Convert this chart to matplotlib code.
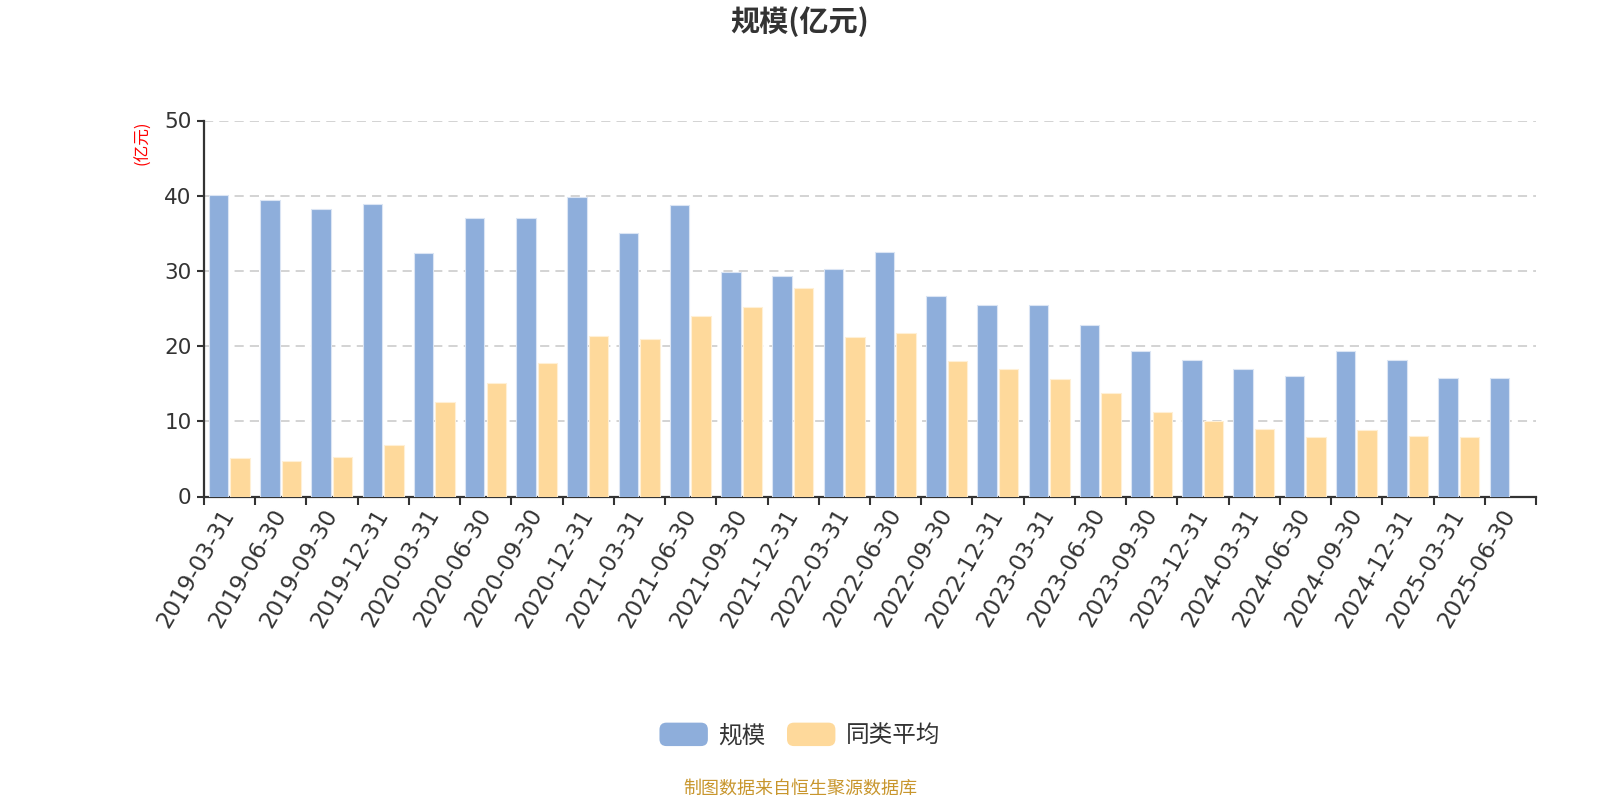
import numpy as np
import matplotlib
matplotlib.use("Agg")
import matplotlib.pyplot as plt
from matplotlib.patches import FancyBboxPatch, Patch
from matplotlib.legend_handler import HandlerPatch

plt.rcParams['font.family'] = ['Noto Sans CJK SC', 'DejaVu Sans']

categories = ["2019-03-31", "2019-06-30", "2019-09-30", "2019-12-31",
              "2020-03-31", "2020-06-30", "2020-09-30", "2020-12-31",
              "2021-03-31", "2021-06-30", "2021-09-30", "2021-12-31",
              "2022-03-31", "2022-06-30", "2022-09-30", "2022-12-31",
              "2023-03-31", "2023-06-30", "2023-09-30", "2023-12-31",
              "2024-03-31", "2024-06-30", "2024-09-30", "2024-12-31",
              "2025-03-31", "2025-06-30"]
scale = [40.1, 39.4, 38.2, 38.9, 32.4, 37.0, 37.1, 39.8, 35.1, 38.8,
         29.9, 29.3, 30.2, 32.5, 26.7, 25.5, 25.5, 22.8, 19.3, 18.1,
         16.9, 16.0, 19.4, 18.1, 15.7, 15.7]
peer_avg = [5.1, 4.7, 5.2, 6.9, 12.6, 15.1, 17.8, 21.4, 20.9, 24.0,
            25.2, 27.7, 21.2, 21.8, 18.0, 17.0, 15.6, 13.7, 11.2, 10.1,
            8.95, 7.9, 8.8, 8.0, 7.9, np.nan]
series_names = ["规模", "同类平均"]
yticks = [0, 10, 20, 30, 40, 50]

c_blue = "#8eaedb"
c_orange = "#fed99b"
txt = "#333333"
tick_font = ['DejaVu Sans']

fig = plt.figure(figsize=(16, 8), dpi=100)
ax = fig.add_axes([204/1600, (800-496.5)/800, (1536-204)/1600, (496.5-120.5)/800])

x = np.arange(len(categories))
w = 0.38
ax.bar(x - 0.215, scale, width=w, color=c_blue, edgecolor="#dbe5f4", linewidth=0.8, zorder=3)
ax.bar(x + 0.205, peer_avg, width=w, color=c_orange, edgecolor="#fff0d6", linewidth=0.8, zorder=3)

ax.set_xlim(-0.5, len(categories) - 0.5)
ax.set_ylim(0, 50)
ax.set_yticks(yticks)
ax.set_yticklabels([str(v) for v in yticks], fontsize=15.5, color=txt, family=tick_font)
ax.yaxis.grid(True, linestyle=(0, (6, 4)), color="#c8c8c8", linewidth=1.1, zorder=0)
ax.tick_params(axis='y', length=5, width=1.5, color=txt, pad=4)

ax.set_xticks(np.arange(-0.5, len(categories), 1.0))
ax.set_xticklabels([])
ax.set_xticks(x, minor=True)
ax.set_xticklabels(categories, minor=True, rotation=60, ha='right', va='center',
                   rotation_mode='anchor', fontsize=16.5, color=txt, family=tick_font)
ax.tick_params(axis='x', which='major', length=6, width=1.5, color=txt)
ax.tick_params(axis='x', which='minor', length=0, pad=10)

for s in ['top', 'right']:
    ax.spines[s].set_visible(False)
for s in ['left', 'bottom']:
    ax.spines[s].set_color(txt)
    ax.spines[s].set_linewidth(1.6)

fig.text(143/1600, 1 - 143/800, "(亿元)", rotation=90, color="red", fontsize=12,
         ha='center', va='center')
fig.text(0.5, 1 - 22/800, "规模(亿元)", fontsize=21, fontweight='bold', color=txt,
         ha='center', va='center')


class RoundHandler(HandlerPatch):
    def create_artists(self, legend, orig_handle, xdescent, ydescent, width, height, fontsize, trans):
        p = FancyBboxPatch((-xdescent, -ydescent), width, height,
                           boxstyle="round,pad=0,rounding_size=5",
                           facecolor=orig_handle.get_facecolor(), edgecolor='none',
                           transform=trans)
        return [p]


handles = [Patch(facecolor=c_blue), Patch(facecolor=c_orange)]
leg = fig.legend(handles, series_names, loc='center', bbox_to_anchor=(0.5, 1 - 735/800),
                 ncol=2, frameon=False, fontsize=17, handlelength=2.05, handleheight=1.15,
                 handletextpad=0.45, columnspacing=0.9,
                 handler_map={Patch: RoundHandler()})
for t in leg.get_texts():
    t.set_color(txt)

fig.text(0.5, 1 - 789/800, "制图数据来自恒生聚源数据库", fontsize=13, color="#c8962d",
         ha='center', va='center')

fig.savefig("out.png", dpi=100)
